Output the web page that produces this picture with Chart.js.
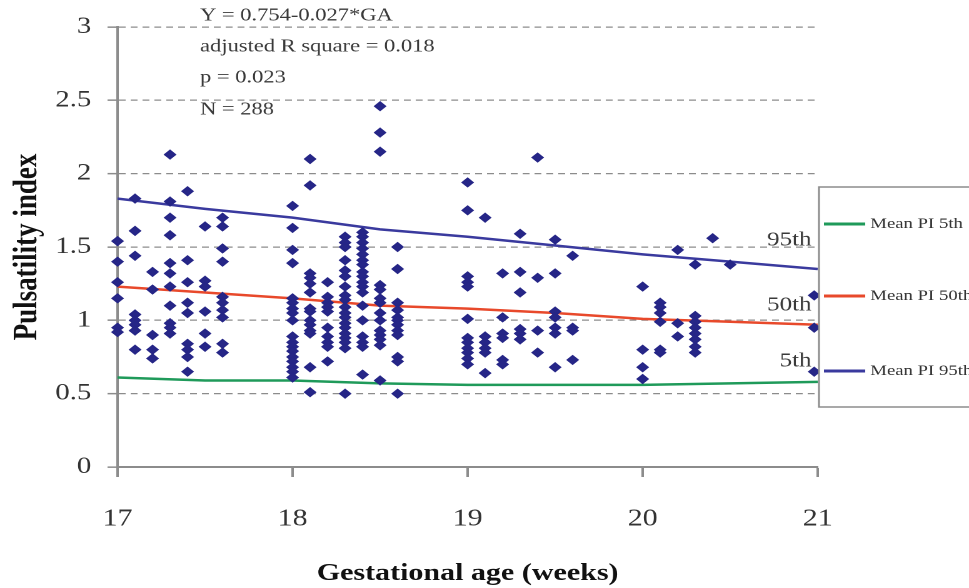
<!DOCTYPE html>
<html>
<head>
<meta charset="utf-8">
<script src="https://cdn.jsdelivr.net/npm/chart.js@4.4.1/dist/chart.umd.min.js"></script>
<style>
    html, body { margin: 0; padding: 0; background: #fff; overflow: hidden; }
    /* a figura original foi esticada na horizontal (~1.25x) */
    #boxGrafico { width: 775px; height: 588px; transform: scaleX(1.2503); transform-origin: 0 0; }
</style>
</head>
<body>
<div id="boxGrafico"><canvas id="graficoPI"></canvas></div>
<script>
// Idade gestacional (semanas) de cada coluna de pontos
const colGA = [17.0, 17.1, 17.2, 17.3, 17.4, 17.5, 17.6,
    18.0, 18.1, 18.2, 18.3, 18.4, 18.5, 18.6,
    19.0, 19.1, 19.2, 19.3, 19.4, 19.5, 19.6,
    20.0, 20.1, 20.2, 20.3, 20.4, 20.5, 20.98];

// Pulsatility index medido em cada coluna
const colPI = [
    [1.54, 1.40, 1.26, 1.15, 0.95, 0.92],
    [1.83, 1.61, 1.44, 1.04, 1.00, 0.97, 0.93, 0.80],
    [1.33, 1.21, 0.90, 0.80, 0.74],
    [2.13, 1.81, 1.70, 1.58, 1.39, 1.32, 1.23, 1.10, 0.98, 0.95, 0.91],
    [1.88, 1.41, 1.26, 1.12, 1.05, 0.84, 0.80, 0.75, 0.65],
    [1.64, 1.27, 1.23, 1.06, 0.91, 0.82],
    [1.70, 1.64, 1.49, 1.40, 1.16, 1.12, 1.07, 1.02, 0.84, 0.78],
    [1.78, 1.63, 1.48, 1.39, 1.15, 1.12, 1.08, 1.05, 1.00, 0.89, 0.85, 0.82, 0.79, 0.75, 0.72, 0.68, 0.65, 0.61],
    [2.10, 1.92, 1.32, 1.29, 1.25, 1.19, 1.08, 1.06, 1.00, 0.97, 0.93, 0.91, 0.68, 0.51],
    [1.26, 1.16, 1.12, 1.09, 1.06, 0.95, 0.89, 0.85, 0.82, 0.72],
    [1.57, 1.53, 1.50, 1.41, 1.34, 1.30, 1.23, 1.17, 1.14, 1.09, 1.05, 1.02, 0.98, 0.95, 0.91, 0.88, 0.85, 0.81, 0.50],
    [1.60, 1.57, 1.53, 1.49, 1.45, 1.41, 1.38, 1.33, 1.30, 1.26, 1.23, 1.19, 1.10, 1.00, 0.89, 0.85, 0.82, 0.63],
    [2.46, 2.28, 2.15, 1.24, 1.21, 1.15, 1.12, 1.05, 1.00, 0.93, 0.90, 0.87, 0.83, 0.59],
    [1.50, 1.35, 1.12, 1.07, 1.02, 1.00, 0.97, 0.93, 0.90, 0.75, 0.72, 0.50],
    [1.94, 1.75, 1.30, 1.26, 1.23, 1.01, 0.88, 0.85, 0.81, 0.78, 0.74, 0.70],
    [1.70, 0.89, 0.85, 0.81, 0.78, 0.64],
    [1.32, 1.02, 0.91, 0.88, 0.73, 0.70],
    [1.59, 1.33, 1.19, 0.94, 0.91, 0.87],
    [2.11, 1.29, 0.93, 0.78],
    [1.55, 1.32, 1.06, 1.02, 0.95, 0.91, 0.68],
    [1.44, 0.95, 0.93, 0.73],
    [1.23, 0.80, 0.68, 0.60],
    [1.12, 1.09, 1.05, 0.99, 0.80, 0.78],
    [1.48, 0.98, 0.89],
    [1.38, 1.03, 0.99, 0.95, 0.91, 0.87, 0.82, 0.78],
    [1.56],
    [1.38],
    [1.17, 0.95, 0.65]
];

// Curvas de referência (percentis)
const linhaGA = [17, 17.5, 18, 18.5, 19, 19.5, 20, 20.5, 21];
const pi5 = [0.61, 0.59, 0.59, 0.57, 0.56, 0.56, 0.56, 0.57, 0.58];
const pi50 = [1.23, 1.19, 1.15, 1.10, 1.08, 1.05, 1.01, 0.99, 0.97];
const pi95 = [1.83, 1.76, 1.70, 1.62, 1.57, 1.51, 1.45, 1.40, 1.35];

const nomesLinhas = ['Mean PI 5th', 'Mean PI 50th', 'Mean PI 95th'];
const rotulosPercentil = ['5th', '50th', '95th'];
const anotacoes = ['Y = 0.754-0.027*GA', 'adjusted R square = 0.018', 'p = 0.023', 'N = 288'];

const corPonto = '#262687';
const coresLinhas = ['#1f9a5a', '#e8492b', '#3a3a9e'];
const corEixo = '#8c8c8c';
const fonte = '"Liberation Serif", "Times New Roman", serif';

// monta os pontos a partir das colunas
const pontos = [];
colGA.forEach((ga, i) => {
    colPI[i].forEach(v => pontos.push({ x: ga, y: v }));
});

function linha(valores) {
    return linhaGA.map((ga, i) => ({ x: ga, y: valores[i] }));
}

// textos, legenda e rótulos dos percentis
const textoGrafico = {
    id: 'textoGrafico',
    afterDatasetsDraw(chart) {
        const ctx = chart.ctx;
        ctx.save();
        ctx.textBaseline = 'middle';

        // anotação da regressão
        ctx.fillStyle = '#3a3a3a';
        ctx.font = '18px ' + fonte;
        ctx.textAlign = 'left';
        const anotY = [16, 47, 78, 110];
        anotacoes.forEach((t, i) => ctx.fillText(t, 160, anotY[i]));

        // rótulos 5th / 50th / 95th
        ctx.font = '20px ' + fonte;
        ctx.textAlign = 'right';
        const rotY = [361, 305, 240];
        rotulosPercentil.forEach((t, i) => ctx.fillText(t, 649, rotY[i]));

        // legenda
        ctx.fillStyle = '#fff';
        ctx.fillRect(655, 187, 130, 220);
        ctx.strokeStyle = corEixo;
        ctx.lineWidth = 1.5;
        ctx.strokeRect(655, 187, 130, 220);
        const legY = [224, 296, 371];
        ctx.font = '15px ' + fonte;
        ctx.textAlign = 'left';
        chart.data.datasets.slice(1).forEach((ds, i) => {
            ctx.strokeStyle = ds.borderColor;
            ctx.lineWidth = 3;
            ctx.beginPath();
            ctx.moveTo(659, legY[i]);
            ctx.lineTo(692, legY[i]);
            ctx.stroke();
            ctx.fillStyle = '#333';
            ctx.fillText(ds.label, 696, legY[i]);
        });
        ctx.restore();
    }
};

const ctxPI = document.getElementById('graficoPI');

const grafico = new Chart(ctxPI, {
    type: 'scatter',
    data: {
        datasets: [{
            label: 'PI',
            data: pontos,
            pointStyle: 'rectRot',
            pointRadius: 4.5,
            borderWidth: 1,
            backgroundColor: corPonto,
            borderColor: corPonto,
            clip: false,
            order: 0
        }, {
            label: nomesLinhas[0],
            data: linha(pi5),
            showLine: true,
            borderColor: coresLinhas[0],
            borderWidth: 2.5,
            pointRadius: 0,
            fill: false,
            order: 1
        }, {
            label: nomesLinhas[1],
            data: linha(pi50),
            showLine: true,
            borderColor: coresLinhas[1],
            borderWidth: 2.5,
            pointRadius: 0,
            fill: false,
            order: 1
        }, {
            label: nomesLinhas[2],
            data: linha(pi95),
            showLine: true,
            borderColor: coresLinhas[2],
            borderWidth: 2.5,
            pointRadius: 0,
            fill: false,
            order: 1
        }]
    },
    options: {
        responsive: true,
        maintainAspectRatio: false,
        devicePixelRatio: 2,
        animation: false,
        layout: {
            padding: { top: 27, right: 121, bottom: 0, left: 0 }
        },
        scales: {
            x: {
                type: 'linear',
                min: 17,
                max: 21,
                afterFit: s => { s.height = 121; },
                ticks: {
                    stepSize: 1,
                    color: '#333',
                    padding: 28,
                    font: { family: fonte, size: 24 }
                },
                grid: {
                    drawOnChartArea: false,
                    tickLength: 10,
                    tickColor: corEixo,
                    tickWidth: 2
                },
                border: { color: corEixo, width: 2 },
                title: {
                    display: true,
                    text: 'Gestational age (weeks)',
                    color: '#111',
                    padding: { top: 0, bottom: 0 },
                    font: { family: fonte, size: 24, weight: 'bold' }
                }
            },
            y: {
                min: 0,
                max: 3,
                afterFit: s => { s.width = 94; },
                ticks: {
                    stepSize: 0.5,
                    color: '#333',
                    padding: 13,
                    font: { family: fonte, size: 23 },
                    callback: v => String(v)
                },
                grid: {
                    color: corEixo,
                    lineWidth: 1.3,
                    tickLength: 8,
                    tickColor: corEixo,
                    tickWidth: 1.5,
                    tickBorderDash: []
                },
                border: { color: corEixo, width: 2, dash: [5.5, 4] },
                title: {
                    display: true,
                    text: 'Pulsatility index',
                    color: '#111',
                    padding: { top: 6, bottom: 0 },
                    font: { family: fonte, size: 27, weight: 'bold' }
                }
            }
        },
        plugins: {
            legend: { display: false },
            tooltip: { enabled: false }
        }
    },
    plugins: [textoGrafico]
});
</script>
</body>
</html>
